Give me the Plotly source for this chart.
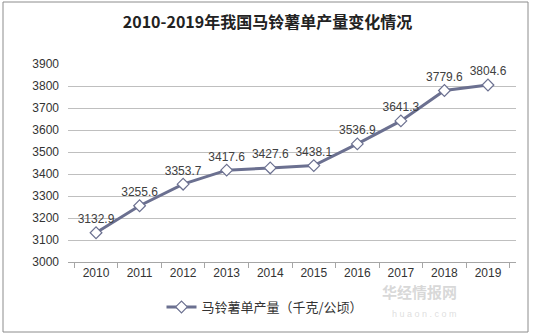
import plotly.graph_objects as go

years = ["2010", "2011", "2012", "2013", "2014", "2015", "2016", "2017", "2018", "2019"]
values = [3132.9, 3255.6, 3353.7, 3417.6, 3427.6, 3438.1, 3536.9, 3641.3, 3779.6, 3804.6]
labels = ["3132.9", "3255.6", "3353.7", "3417.6", "3427.6", "3438.1", "3536.9", "3641.3", "3779.6", "3804.6"]
series_name = "马铃薯单产量（千克/公顷）"
title = "2010-2019年我国马铃薯单产量变化情况"

W, H = 535, 335
L, R, T, B = 68, 19, 64, 73
pw, ph = W - L - R, H - T - B

def px(x):
    return (x - L) / pw

def py(y):
    return (H - B - y) / ph

fig = go.Figure()
fig.add_trace(go.Scatter(
    x=years, y=values, mode="lines+markers+text", name=series_name,
    text=labels, textposition="top center",
    textfont=dict(family="Liberation Sans, Arial", size=12, color="#404040"),
    line=dict(color="#6B7090", width=3),
    marker=dict(symbol="diamond", size=9, color="white", line=dict(color="#6B7090", width=1.2)),
    cliponaxis=False,
))

fig.update_layout(
    width=W, height=H,
    margin=dict(l=L, r=R, t=T, b=B),
    paper_bgcolor="white", plot_bgcolor="white",
    title=dict(text="<b>" + title + "</b>", x=0.5, xanchor="center", y=1 - 22 / H, yanchor="middle",
               font=dict(family="Noto Sans CJK SC", size=16, color="#222")),
    showlegend=True,
    legend=dict(orientation="h", x=px(265), xanchor="center", y=py(307), yanchor="middle",
                font=dict(family="Noto Sans CJK SC", size=13, color="#333"), bgcolor="rgba(0,0,0,0)"),
    xaxis=dict(type="category", showgrid=False, showline=True, linecolor="#A6A6A6", linewidth=1,
               ticks="outside", ticklen=5, tickcolor="#A6A6A6", tickson="boundaries",
               tickfont=dict(family="Liberation Sans, Arial", size=12, color="#333")),
    yaxis=dict(range=[3000, 3900], dtick=100, showgrid=True, gridcolor="#BFBFBF", gridwidth=1,
               zeroline=False, showline=False, ticks="", ticklabelstandoff=8,
               tickfont=dict(family="Liberation Sans, Arial", size=12, color="#333")),
)

# outer border of the chart
fig.add_shape(type="rect", xref="paper", yref="paper",
              x0=px(3), x1=px(528), y0=py(332), y1=py(2),
              line=dict(color="#8C8C8C", width=1), fillcolor="rgba(0,0,0,0)", layer="below")

# watermark
fig.add_annotation(xref="paper", yref="paper", x=px(458), y=py(303), text="<b>华经情报网</b>",
                   showarrow=False, borderpad=0,
                   font=dict(family="Noto Sans CJK SC", size=15, color="rgba(190,190,190,0.6)"))
fig.add_annotation(xref="paper", yref="paper", x=px(458), y=py(320), text="h u a o n . c o m",
                   showarrow=False, borderpad=0,
                   font=dict(family="Liberation Sans", size=9, color="rgba(200,200,200,0.6)"))

fig.write_html("out.html")
